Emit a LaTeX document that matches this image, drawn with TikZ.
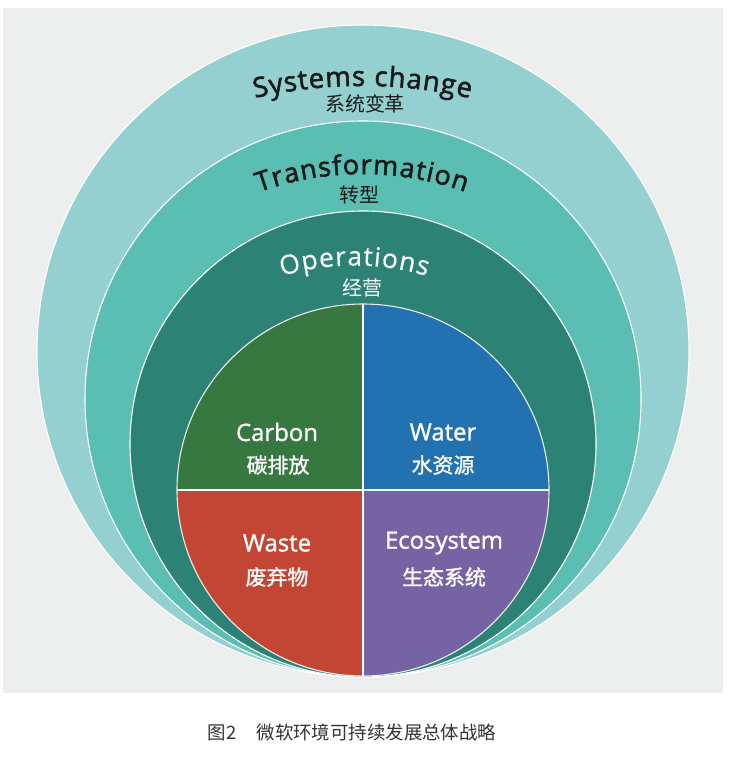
\documentclass[tikz,border=0pt]{standalone}
\usepackage{fontspec}
\usetikzlibrary{decorations.text}
\newfontfamily\zhfont{Noto Sans CJK SC}
\newfontfamily\zhmedium{Noto Sans CJK SC}[FakeBold=1.3]
\newfontfamily\enfont{Open Sans}[FakeBold=0.4]
\newfontfamily\enbold{Open Sans}[FakeBold=1.2]
\newfontfamily\ensemi{Open Sans}[FakeBold=2]
\definecolor{BgGray}{HTML}{EDEFEE}
\definecolor{SysTeal}{HTML}{93D0CF}
\definecolor{TransTeal}{HTML}{5BBEB2}
\definecolor{OpsTeal}{HTML}{2C8375}
\definecolor{CarbonGreen}{HTML}{377841}
\definecolor{WaterBlue}{HTML}{2272B2}
\definecolor{WasteRed}{HTML}{C24633}
\definecolor{EcoPurple}{HTML}{7663A3}
\definecolor{InkDark}{HTML}{1A1A1A}

\begin{document}
\begin{tikzpicture}[x=1bp, y=-1bp, ring/.style={draw=white,line width=1.1bp}, entitle/.style={font=\enbold\fontsize{24}{26}\selectfont,text=white,inner sep=0pt}, zhquad/.style={font=\zhmedium\fontsize{21}{23}\selectfont,text=white,inner sep=0pt}, zhring/.style={font=\zhfont\fontsize{20}{22}\selectfont,inner sep=0pt}, arctext/.style={decorate,decoration={text along path,text align={fit to path},text color=#1}}]
\useasboundingbox (0,0) rectangle (731,760);
\fill[BgGray] (3,8) rectangle (723,693);
\fill[SysTeal,ring] (363,351) circle[radius=326];
\fill[TransTeal,ring] (363,399) circle[radius=278];
\fill[OpsTeal,ring] (363,444) circle[radius=233];
\fill[CarbonGreen] (363,490) -- (177,490) arc[start angle=180,end angle=270,radius=186] -- cycle;
\fill[WaterBlue] (363,490) -- (363,304) arc[start angle=270,end angle=360,radius=186] -- cycle;
\fill[EcoPurple] (363,490) -- (549,490) arc[start angle=0,end angle=90,radius=186] -- cycle;
\fill[WasteRed] (363,490) -- (363,676) arc[start angle=90,end angle=180,radius=186] -- cycle;
\draw[white!85!gray,line width=1.1bp] (363,490) circle[radius=186];
\draw[white,line width=1.8bp] (363,304) -- (363,676);
\draw[white,line width=1.8bp] (177,490) -- (549,490);
\path[arctext=InkDark,decoration={text={|\ensemi\fontsize{27.5}{29}\selectfont|Systems change}}] (255,98) arc[start angle=-102.9,end angle=-77,radius=480];
\path[arctext=InkDark,decoration={text={|\ensemi\fontsize{27}{29}\selectfont|Transformation}}] (259,192) arc[start angle=-109.7,end angle=-70.3,radius=306];
\path[arctext=white,decoration={text={|\enfont\fontsize{26.5}{28}\selectfont|Operations}}] (282,276) arc[start angle=-106.5,end angle=-73.5,radius=255];
\node[zhring,text=InkDark] (syszh) at (365,104) {系统变革};
\node[zhring,text=InkDark] (transzh) at (359,195) {转型};
\node[zhring,text=white] (opszh) at (362,288) {经营};
\node[entitle] (carbon) at (277,432) {Carbon};
\node[zhquad] (carbonzh) at (278,465) {碳排放};
\node[entitle] (water) at (443,432) {Water};
\node[zhquad] (waterzh) at (443,465) {水资源};
\node[entitle] (waste) at (277,543) {Waste};
\node[zhquad] (wastezh) at (277,577) {废弃物};
\node[entitle] (eco) at (444,543) {Ecosystem};
\node[zhquad] (ecozh) at (444,577) {生态系统};
\node[font=\zhfont\fontsize{18.5}{20}\selectfont,text=black!80,inner sep=0pt] (caption) at (352,732) {图2\hspace{1.1em}微软环境可持续发展总体战略};
\end{tikzpicture}
\end{document}
